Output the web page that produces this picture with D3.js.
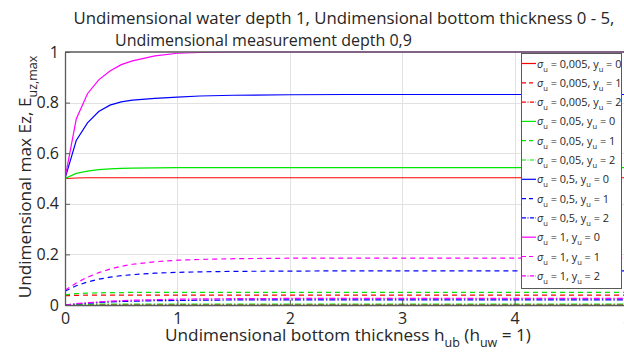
<!DOCTYPE html>
<html><head><meta charset="utf-8">
<script src="https://cdn.jsdelivr.net/npm/d3@7"></script>
<style>
html,body{margin:0;padding:0;background:#fff;}
svg{display:block;font-family:"Open Sans",sans-serif;}
</style></head>
<body>
<svg id="c" width="624" height="352"></svg>
<script>
// ---- data ----
const xs = [0, 0.1, 0.2, 0.3, 0.4, 0.5, 0.6, 0.8, 1, 1.2, 1.5, 2, 2.5, 3, 4, 5];
const sig0005_y0 = [0.5, 0.502, 0.503, 0.503, 0.503, 0.503, 0.503, 0.503, 0.503, 0.503, 0.503, 0.503, 0.503, 0.503, 0.503, 0.503];
const sig0005_y1 = [0.037, 0.038, 0.039, 0.039, 0.039, 0.039, 0.039, 0.039, 0.039, 0.039, 0.039, 0.039, 0.039, 0.039, 0.039, 0.039];
const sig0005_y2 = [0, 0.001, 0.001, 0.001, 0.001, 0.001, 0.001, 0.001, 0.001, 0.001, 0.001, 0.001, 0.001, 0.001, 0.001, 0.001];
const sig005_y0 = [0.5, 0.52, 0.529, 0.535, 0.538, 0.54, 0.541, 0.542, 0.543, 0.543, 0.543, 0.543, 0.543, 0.543, 0.543, 0.543];
const sig005_y1 = [0.04, 0.045, 0.047, 0.048, 0.049, 0.049, 0.05, 0.05, 0.05, 0.05, 0.05, 0.05, 0.05, 0.05, 0.05, 0.05];
const sig005_y2 = [0, 0.002, 0.003, 0.004, 0.004, 0.004, 0.004, 0.004, 0.004, 0.004, 0.004, 0.004, 0.004, 0.004, 0.004, 0.004];
const sig05_y0 = [0.5, 0.65, 0.72, 0.765, 0.79, 0.803, 0.81, 0.817, 0.822, 0.826, 0.829, 0.831, 0.832, 0.832, 0.832, 0.832];
const sig05_y1 = [0.055, 0.076, 0.091, 0.102, 0.11, 0.116, 0.12, 0.126, 0.129, 0.131, 0.133, 0.134, 0.135, 0.135, 0.135, 0.135];
const sig05_y2 = [0, 0.004, 0.007, 0.01, 0.012, 0.014, 0.015, 0.017, 0.018, 0.019, 0.02, 0.02, 0.02, 0.02, 0.02, 0.02];
const sig1_y0 = [0.5, 0.735, 0.835, 0.89, 0.925, 0.95, 0.965, 0.985, 0.995, 0.998, 1, 1, 1, 1, 1, 1];
const sig1_y1 = [0.058, 0.087, 0.11, 0.128, 0.142, 0.153, 0.161, 0.171, 0.177, 0.18, 0.183, 0.185, 0.185, 0.185, 0.185, 0.185];
const sig1_y2 = [0, 0.005, 0.009, 0.012, 0.015, 0.017, 0.019, 0.021, 0.023, 0.024, 0.025, 0.026, 0.026, 0.026, 0.026, 0.026];
const sigmaLabels = ["0,005", "0,005", "0,005", "0,05", "0,05", "0,05", "0,5", "0,5", "0,5", "1", "1", "1"];
const yuLabels = ["0", "1", "2", "0", "1", "2", "0", "1", "2", "0", "1", "2"];
const xTicks = [0, 1, 2, 3, 4, 5];
const yTicks = [0, 0.2, 0.4, 0.6, 0.8, 1];
const yTickLabels = ["0", "0.2", "0.4", "0.6", "0.8", "1"];

const seriesValues = [sig0005_y0, sig0005_y1, sig0005_y2, sig005_y0, sig005_y1, sig005_y2,
                      sig05_y0, sig05_y1, sig05_y2, sig1_y0, sig1_y1, sig1_y2];
const colors = ["#ff0000", "#00e600", "#0000ff", "#ff00ff"];
const dashes = [null, "5,4", "6,2,1.5,2"];

// ---- layout ----
const svg = d3.select("#c");
const L = 65, R = 627, T = 52, B = 305;
const x = d3.scaleLinear().domain([0, 5]).range([L, R]);
const y = d3.scaleLinear().domain([0, 1]).range([B, T]);

svg.append("defs").append("clipPath").attr("id", "clip")
  .append("rect").attr("x", L).attr("y", T - 2).attr("width", R - L).attr("height", B - T + 4);

// grid
const grid = svg.append("g").attr("stroke", "#e2e2e2").attr("stroke-width", 1);
xTicks.slice(1, -1).forEach(t => grid.append("line")
  .attr("x1", Math.round(x(t)) + 0.5).attr("x2", Math.round(x(t)) + 0.5).attr("y1", T).attr("y2", B));
yTicks.slice(1, -1).forEach(t => grid.append("line")
  .attr("y1", Math.round(y(t)) + 0.5).attr("y2", Math.round(y(t)) + 0.5).attr("x1", L).attr("x2", R));

// lines
const line = d3.line().x((d, i) => x(xs[i])).y(d => y(d));
const lg = svg.append("g").attr("clip-path", "url(#clip)");
seriesValues.forEach((vals, i) => {
  lg.append("path").datum(vals).attr("d", line)
    .attr("fill", "none")
    .attr("stroke", colors[Math.floor(i / 3)])
    .attr("stroke-width", 1.2)
    .attr("stroke-dasharray", dashes[i % 3]);
});

// axes
const xAxis = d3.axisBottom(x).tickValues(xTicks).tickFormat(d3.format("d")).tickSizeInner(-5).tickSizeOuter(0).tickPadding(8);
const yAxis = d3.axisLeft(y).tickValues(yTicks).tickFormat((d, i) => yTickLabels[i]).tickSizeInner(-5).tickSizeOuter(0).tickPadding(6);
const gx = svg.append("g").attr("transform", `translate(0,${B})`).call(xAxis);
const gy = svg.append("g").attr("transform", `translate(${L},0)`).call(yAxis);
[gx, gy].forEach(g => {
  g.selectAll("path").attr("stroke", "#5a5a5a").attr("stroke-width", 1.3);
  g.selectAll("line").attr("stroke", "#5a5a5a");
  g.selectAll("text").attr("fill", "#262626").attr("font-size", 16).attr("font-family", "Open Sans, sans-serif");
});
gx.selectAll("text").attr("dy", "0.71em");
// top border
svg.append("line").attr("x1", L).attr("x2", R).attr("y1", T).attr("y2", T).attr("stroke", "#5a5a5a").attr("stroke-width", 1.3);

// title
const title = svg.append("g").attr("fill", "#262626");
title.append("text").attr("x", 344).attr("y", 24).attr("text-anchor", "middle").attr("font-size", 16.8)
  .text("Undimensional water depth 1, Undimensional bottom thickness 0 - 5,");
title.append("text").attr("x", 115).attr("y", 46).attr("font-size", 16)
  .text("Undimensional measurement depth 0,9");

// x label
const xl = svg.append("text").attr("x", 348).attr("y", 341).attr("text-anchor", "middle")
  .attr("font-size", 17.2).attr("fill", "#262626");
xl.append("tspan").text("Undimensional bottom thickness h");
xl.append("tspan").attr("dy", 6).attr("font-size", 12.5).text("ub");
xl.append("tspan").attr("dy", -6).text(" (h");
xl.append("tspan").attr("dy", 6).attr("font-size", 12.5).text("uw");
xl.append("tspan").attr("dy", -6).text(" = 1)");

// y label
const yl = svg.append("text").attr("transform", "translate(31,177) rotate(-90)").attr("text-anchor", "middle")
  .attr("font-size", 17.2).attr("fill", "#262626");
yl.append("tspan").text("Undimensional max Ez, E");
yl.append("tspan").attr("dy", 6).attr("font-size", 12.5).text("uz,max");

// legend
const lgX = 521, lgY = 53, lgW = 100, lgH = 235;
const leg = svg.append("g");
leg.append("rect").attr("x", lgX + 0.5).attr("y", lgY + 0.5).attr("width", lgW).attr("height", lgH)
  .attr("fill", "#fff").attr("stroke", "#5a5a5a").attr("stroke-width", 1);
seriesValues.forEach((vals, i) => {
  const cy = lgY + 10.5 + i * 19.3;
  leg.append("line").attr("x1", lgX + 1).attr("x2", lgX + 15).attr("y1", cy).attr("y2", cy)
    .attr("stroke", colors[Math.floor(i / 3)]).attr("stroke-width", 1.2)
    .attr("stroke-dasharray", dashes[i % 3] ? (i % 3 === 1 ? "4,3" : "4,1.5,1,1.5") : null);
  const t = leg.append("text").attr("x", lgX + 16).attr("y", cy + 4).attr("font-size", 10.9).attr("fill", "#262626");
  t.append("tspan").attr("font-style", "italic").text("σ");
  t.append("tspan").attr("dy", 4).attr("font-size", 7.5).text("u");
  t.append("tspan").attr("dy", -4).text(" = " + sigmaLabels[i] + ", y");
  t.append("tspan").attr("dy", 4).attr("font-size", 7.5).text("u");
  t.append("tspan").attr("dy", -4).text(" = " + yuLabels[i]);
});
</script>
</body></html>
